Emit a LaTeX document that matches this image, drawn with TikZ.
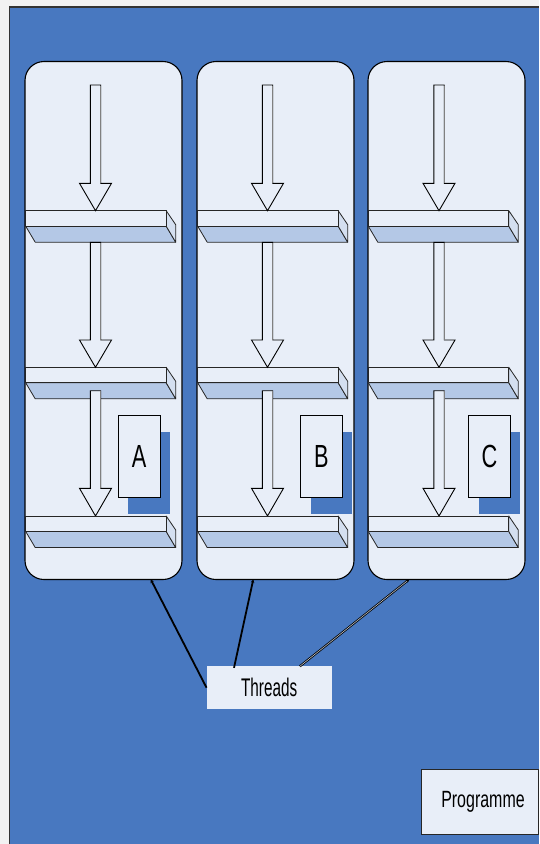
\documentclass[tikz,border=0pt]{standalone}
\usepackage{fontspec}
\setmainfont{Liberation Sans}
\usetikzlibrary{arrows.meta}
\definecolor{bgblue}{HTML}{4878C0}
\definecolor{pagegray}{HTML}{F2F2F2}
\definecolor{paleblue}{HTML}{E8EEF8}
\definecolor{barlow}{HTML}{B4C8E6}
\definecolor{barside}{HTML}{D4DFF0}
\tikzset{
  colbox/.style={draw=black, line width=1.1pt, fill=paleblue, rounded corners=19pt,
    minimum width=157pt, minimum height=518pt, inner sep=0pt, outer sep=0pt},
  slabface/.style={draw=black!85, line width=0.8pt, line join=round},
  blkarrow/.style={draw=black, line width=0.9pt, fill=paleblue, line join=miter},
  letterbox/.style={draw=black, line width=0.9pt, fill=paleblue, minimum width=41.7pt,
    minimum height=82.3pt, inner sep=0pt, font=\fontsize{32}{36}\selectfont},
  labelbox/.style={fill=paleblue, inner sep=0pt},
  threadline/.style={line width=1.8pt, -{Stealth[length=3.5pt,width=3.5pt]}},
}
\newcommand{\myslab}[2]{%
  \filldraw[slabface, fill=barlow] (#1,{#2+15.5}) -- ({#1+140.5},{#2+15.5}) -- ({#1+150},{#2+31.5}) -- ({#1+9.5},{#2+31.5}) -- cycle;
  \filldraw[slabface, fill=barside] ({#1+140.5},#2) -- ({#1+150},{#2+14}) -- ({#1+150},{#2+31.5}) -- ({#1+140.5},{#2+15.5}) -- cycle;
  \filldraw[slabface, fill=paleblue] (#1,#2) rectangle ({#1+140.5},{#2+15.5});
}
% center x, shaft top, head base, tip
\newcommand{\myarrow}[4]{%
  \filldraw[blkarrow] ({#1-5.2},#2) -- ({#1+5.2},#2) -- ({#1+5.2},#3) -- ({#1+16},#3) -- (#1,#4) -- ({#1-16},#3) -- ({#1-5.2},#3) -- cycle;
  \draw[gray, line width=1pt] ({#1+5.2},{#2+0.5}) -- ({#1+5.2},{#3-0.5});
}
\begin{document}
\begin{tikzpicture}[x=1pt,y=-1pt]
\useasboundingbox (0,0) rectangle (539,844);
\fill[pagegray] (0,0) rectangle (539,844);
\fill[bgblue] (9.5,7) rectangle (539,844);
\draw[line width=1.3pt, black!80] (9.5,844) -- (9.5,7) -- (539,7);

% columns
\node[colbox] (c1) at (103.5,320.5) {};
\node[colbox] (c2) at (275.5,320.5) {};
\node[colbox] (c3) at (446.5,320.5) {};

% slabs and arrows
\foreach \L/\X in {25.7/95.5, 197.7/267.5, 368.3/439}{
  \myslab{\L}{210.7}
  \myslab{\L}{367.3}
  \myarrow{\X}{85}{183.3}{210.7}
  \myarrow{\X}{242.3}{340}{367.3}
  \myarrow{\X}{390.7}{488.3}{516}
  \myslab{\L}{516}
}

% letter boxes with shadows
\foreach \N/\X in {A/139.2, B/321.5, C/489.5}{
  \fill[bgblue] ({\X-20.85+10},{415+16.5}) rectangle ({\X+20.85+10},{497.3+16.5});
  \node[letterbox] (box\N) at (\X,456.2) {\scalebox{0.68}[1]{\N}};
}

% labels
\node[labelbox, minimum width=125pt, minimum height=43.3pt,
  font=\fontsize{25.5}{30}\selectfont] (th) at (269.2,687.65) {\scalebox{0.6}[1]{Threads}};
\node[labelbox, draw=black!85, line width=0.9pt, minimum width=116.6pt, minimum height=65.3pt,
  font=\fontsize{23.5}{28}\selectfont] (prog) at (480,801.65) {\hspace*{6pt}\scalebox{0.68}[1]{Programme}};

% thread connectors
\coordinate (e1) at (150.7,579.3);
\coordinate (e2) at (253.3,579.3);
\coordinate (e3) at (409.3,579.3);
\draw[threadline] (th.west) -- (e1);
\draw[threadline] ([xshift=27.5pt,yshift=-2pt]th.north west) -- (e2);
\draw[line width=0.8pt, double=paleblue!60!gray, double distance=0.6pt, -{Stealth[length=3.5pt,width=3.5pt]}]
  ([xshift=93.3pt,yshift=-0.5pt]th.north west) -- (e3);
\end{tikzpicture}
\end{document}
